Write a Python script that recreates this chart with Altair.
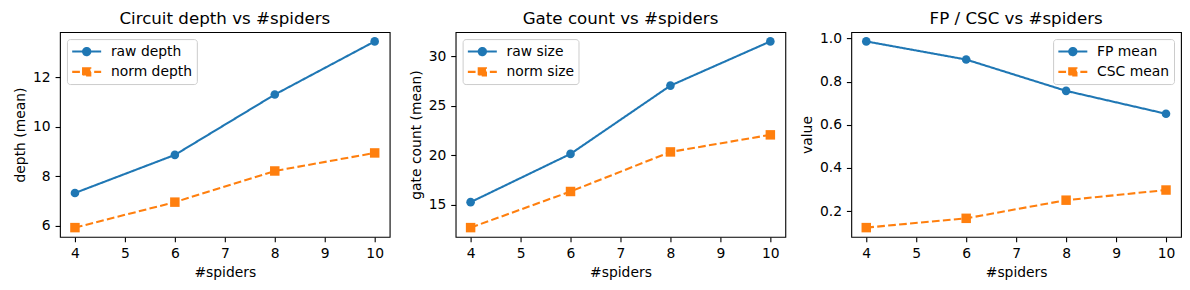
import altair as alt
import pandas as pd

# ---------------- data ----------------
spiders = [4, 6, 8, 10]

depth_raw = [7.33, 8.87, 11.31, 13.46]
depth_norm = [5.93, 6.96, 8.22, 8.95]

size_raw = [15.24, 20.13, 27.05, 31.53]
size_norm = [12.66, 16.32, 20.33, 22.06]

fp_mean = [0.986, 0.902, 0.757, 0.651]
csc_mean = [0.124, 0.167, 0.251, 0.298]

x_ticks = [4, 5, 6, 7, 8, 9, 10]
depth_ticks = [6, 8, 10, 12]
size_ticks = [15, 20, 25, 30]
value_ticks = [0.2, 0.4, 0.6, 0.8, 1.0]

# ---------------- style ----------------
BLUE = "#1f77b4"
ORANGE = "#ff7f0e"
FONT = "DejaVu Sans"
LW = 2.08
DASH = [7.7, 3.3]

# legend symbols: line handle with marker in the middle (units of sqrt(size)/2)
CIRCLE_PATH = ("M-1,0L3,0M1.5,0A0.5,0.5,0,1,1,0.5,0A0.5,0.5,0,1,1,1.5,0Z")
SQUARE_PATH = ("M-1,0L3,0M0.5,-0.5H1.5V0.5H0.5Z")


def panel(title, ytitle, names, s1, s2, yticks, yfmt, orient):
    df = pd.DataFrame({
        "x": spiders + spiders,
        "y": s1 + s2,
        "series": [names[0]] * len(s1) + [names[1]] * len(s2),
    })
    lo, hi = min(s1 + s2), max(s1 + s2)
    pad = 0.05 * (hi - lo)
    xs = alt.Scale(domain=[3.7, 10.3], nice=False, zero=False)
    ys = alt.Scale(domain=[lo - pad, hi + pad], nice=False, zero=False)
    x = alt.X("x:Q", scale=xs,
              axis=alt.Axis(values=x_ticks, title="#spiders", format="d"))
    y = alt.Y("y:Q", scale=ys,
              axis=alt.Axis(values=yticks, title=ytitle, format=yfmt))
    base = alt.Chart(df)

    layers = []
    for name, col, dash, shape, size in [
        (names[0], BLUE, [1, 0], "circle", 74),
        (names[1], ORANGE, DASH, "square", 90),
    ]:
        sub = base.transform_filter(alt.datum.series == name)
        layers.append(sub.mark_line(color=col, strokeWidth=LW,
                                    strokeDash=dash).encode(x=x, y=y))
        layers.append(sub.mark_point(shape=shape, size=size, filled=True,
                                     opacity=1, color=col).encode(x=x, y=y))

    leg = alt.Legend(
        title=None, orient=orient, offset=7, padding=4,
        fillColor="rgba(255,255,255,0.8)", strokeColor="#cccccc",
        cornerRadius=3, symbolSize=210, symbolStrokeWidth=LW,
        labelFont=FONT, labelFontSize=13.9, labelColor="black",
        labelOffset=23, rowPadding=3.3, symbolOpacity=1,
    )
    dom = list(names)
    legend_layer = base.transform_filter("false").mark_point(
        filled=True, opacity=1).encode(
        x=x, y=y,
        fill=alt.Fill("series:N", scale=alt.Scale(domain=dom, range=[BLUE, ORANGE]), legend=leg),
        stroke=alt.Stroke("series:N", scale=alt.Scale(domain=dom, range=[BLUE, ORANGE]), legend=leg),
        shape=alt.Shape("series:N", scale=alt.Scale(domain=dom, range=[CIRCLE_PATH, SQUARE_PATH]), legend=leg),
        strokeDash=alt.StrokeDash("series:N", scale=alt.Scale(domain=dom, range=[[1, 0], DASH]), legend=leg),
    )
    layers.append(legend_layer)
    return alt.layer(*layers).properties(
        width=330, height=205,
        title=alt.TitleParams(title, fontSize=16.7, font=FONT, fontWeight="normal",
                              color="black", offset=4),
    )


p1 = panel("Circuit depth vs #spiders", "depth (mean)", ["raw depth", "norm depth"],
           depth_raw, depth_norm, depth_ticks, "d", "top-left")
p2 = panel("Gate count vs #spiders", "gate count (mean)", ["raw size", "norm size"],
           size_raw, size_norm, size_ticks, "d", "top-left")
p3 = panel("FP / CSC vs #spiders", "value", ["FP mean", "CSC mean"],
           fp_mean, csc_mean, value_ticks, ".1f", "top-right")

chart = alt.hconcat(p1, p2, p3, spacing=66, bounds="flush").resolve_scale(
    x="independent", y="independent", fill="independent", stroke="independent",
    shape="independent", strokeDash="independent",
).properties(
    padding={"left": 4, "top": 2, "right": 0, "bottom": 0},
).configure_view(
    stroke="black", strokeWidth=1.1,
).configure_axis(
    domain=False, grid=False,
    tickColor="black", tickSize=4.9, tickWidth=1.1,
    labelFont=FONT, labelFontSize=13.9, labelColor="black", labelPadding=4.9,
    titleFont=FONT, titleFontSize=13.9, titleFontWeight="normal", titleColor="black",
    titlePadding=5,
)

chart.save("out.html", embed_options={"renderer": "svg", "actions": False})
